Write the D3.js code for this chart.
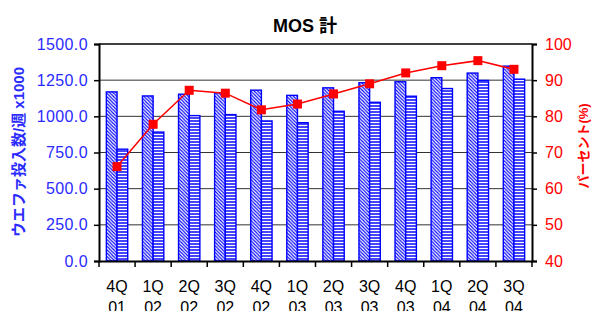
<!DOCTYPE html>
<html>
<head>
<meta charset="utf-8">
<script src="https://cdn.jsdelivr.net/npm/d3@7"></script>
<style>
  html, body { margin:0; padding:0; background:#fff; }
  svg { display:block; }
  text { font-family: "Liberation Sans", Arial, "Noto Sans CJK JP", sans-serif; }
</style>
</head>
<body>
<svg id="chart" width="593" height="311"></svg>
<script>
// ---- data -------------------------------------------------------------
var QUARTERS = ['4Q', '1Q', '2Q', '3Q', '4Q', '1Q', '2Q', '3Q', '4Q', '1Q', '2Q', '3Q'];
var YEARS    = ['01', '02', '02', '02', '02', '03', '03', '03', '03', '04', '04', '04'];
// hatched bars (left axis, x1000 wafers/week)
var WAFER_A  = [1169, 1141, 1153, 1163, 1181, 1145, 1197, 1232, 1239, 1267, 1299, 1347];
// horizontal-striped bars (left axis)
var WAFER_B  = [773, 891, 1005, 1012, 968, 956, 1035, 1097, 1139, 1192, 1248, 1257];
// red line (right axis, %)
var PERCENT  = [66.1, 77.8, 87.2, 86.4, 81.8, 83.4, 86.2, 89.0, 92.0, 94.0, 95.4, 93.0];
var LEFT_TICKS  = [0, 250, 500, 750, 1000, 1250, 1500];
var RIGHT_TICKS = [40, 50, 60, 70, 80, 90, 100];

var BLUE = '#0000ff', LBLUE = '#2b2bff', RED = '#ff0000';

var svg = d3.select('#chart');
var M = { left:99, right:532, top:44, bottom:261 };
var cats = d3.range(QUARTERS.length);

var x  = d3.scaleBand().domain(cats).range([M.left, M.right]);
var x1 = d3.scaleBand().domain(['a','b']).range([0, x.bandwidth()]).paddingOuter(0.69);
var yL = d3.scaleLinear().domain([0, 1500]).range([M.bottom, M.top]);
var yR = d3.scaleLinear().domain([40, 100]).range([M.bottom, M.top]);

// ---- fill patterns ----------------------------------------------------
var defs = svg.append('defs');
var pd = defs.append('pattern').attr('id','diag').attr('patternUnits','userSpaceOnUse')
    .attr('width',3.4).attr('height',3.4);
pd.append('rect').attr('width',3.4).attr('height',3.4).attr('fill','#fff');
pd.append('path').attr('d','M-1,-1L4.4,4.4M-1,2.4L1,4.4M2.4,-1L4.4,1')
    .attr('stroke',BLUE).attr('stroke-width',1.1);
var ph = defs.append('pattern').attr('id','horiz').attr('patternUnits','userSpaceOnUse')
    .attr('width',4).attr('height',3);
ph.append('rect').attr('width',4).attr('height',3).attr('fill','#fff');
ph.append('rect').attr('width',4).attr('height',2).attr('fill','#4646ff');

// ---- gridlines & frame -------------------------------------------------
svg.append('g').selectAll('line').data(LEFT_TICKS.filter(function(d){ return d>0 && d<1500; }))
  .join('line')
    .attr('x1',M.left).attr('x2',M.right)
    .attr('y1',function(d){ return yL(d); }).attr('y2',function(d){ return yL(d); })
    .attr('stroke','#333').attr('stroke-width',1);
svg.append('line').attr('x1',M.left).attr('x2',M.right).attr('y1',M.top).attr('y2',M.top)
    .attr('stroke','#000').attr('stroke-width',1.5);

// ---- bars ---------------------------------------------------------------
var gBars = svg.append('g');
gBars.selectAll('rect.a').data(WAFER_A).join('rect').attr('class','a')
    .attr('x',function(d,i){ return x(i)+x1('a'); }).attr('width',x1.bandwidth())
    .attr('y',function(d){ return yL(d); }).attr('height',function(d){ return yL(0)-yL(d); })
    .attr('fill','url(#diag)').attr('stroke',BLUE).attr('stroke-width',1.4);
gBars.selectAll('rect.b').data(WAFER_B).join('rect').attr('class','b')
    .attr('x',function(d,i){ return x(i)+x1('b'); }).attr('width',x1.bandwidth())
    .attr('y',function(d){ return yL(d); }).attr('height',function(d){ return yL(0)-yL(d); })
    .attr('fill','url(#horiz)').attr('stroke',BLUE).attr('stroke-width',1.4);

// ---- axes ---------------------------------------------------------------
var axL = svg.append('g').attr('transform','translate('+M.left+',0)')
    .call(d3.axisLeft(yL).tickValues(LEFT_TICKS).tickFormat(d3.format('.1f')).tickSize(5).tickPadding(6));
var axR = svg.append('g').attr('transform','translate('+M.right+',0)')
    .call(d3.axisRight(yR).tickValues(RIGHT_TICKS).tickSize(5).tickPadding(8));
var axB = svg.append('g').attr('transform','translate(0,'+M.bottom+')')
    .call(d3.axisBottom(x).tickValues([]).tickSizeOuter(0));
[axL, axR, axB].forEach(function(a){
  a.select('.domain').attr('stroke','#000').attr('stroke-width',2);
  a.selectAll('.tick line').attr('stroke','#000').attr('stroke-width',1.5);
});
axL.selectAll('text').attr('fill',LBLUE).style('font-size','16px').style('letter-spacing','0.4px');
axR.selectAll('text').attr('fill',RED).style('font-size','16px');

// category boundary ticks
svg.append('g').selectAll('line').data(cats.concat([cats.length]))
  .join('line')
    .attr('x1',function(i){ return i<cats.length ? x(i) : M.right; })
    .attr('x2',function(i){ return i<cats.length ? x(i) : M.right; })
    .attr('y1',M.bottom).attr('y2',M.bottom+6)
    .attr('stroke','#000').attr('stroke-width',1.5);

// category labels (two lines; the second is clipped by the frame, as in the source)
var lab = svg.append('g').selectAll('text').data(cats).join('text')
    .attr('text-anchor','middle').style('font-size','16px').attr('fill','#000');
lab.append('tspan').attr('x',function(i){ return x(i)+x.bandwidth()/2; }).attr('y',292)
    .text(function(i){ return QUARTERS[i]; });
lab.append('tspan').attr('x',function(i){ return x(i)+x.bandwidth()/2; }).attr('y',313)
    .text(function(i){ return YEARS[i]; });

// ---- line series ------------------------------------------------------
var cx = function(d,i){ return x(i)+x.bandwidth()/2; };
svg.append('path').datum(PERCENT)
    .attr('d', d3.line().x(cx).y(function(d){ return yR(d); }))
    .attr('fill','none').attr('stroke',RED).attr('stroke-width',1.5);
svg.append('g').selectAll('rect').data(PERCENT).join('rect')
    .attr('x',function(d,i){ return cx(d,i)-4.5; }).attr('y',function(d){ return yR(d)-4.5; })
    .attr('width',9).attr('height',9).attr('fill',RED);

// ---- titles -------------------------------------------------------------
svg.append('text').attr('x',305).attr('y',32).attr('text-anchor','middle')
    .style('font-size','18px').style('font-weight','bold').text('MOS 計');
svg.append('text').attr('transform','translate(24,152) rotate(-90)').attr('text-anchor','middle')
    .style('font-size','15px').style('font-weight','bold').attr('fill',LBLUE)
    .text('ウエファ投入数/週 x1000');
svg.append('text').attr('transform','translate(588,146) rotate(-90)').attr('text-anchor','middle')
    .style('font-size','13px').style('font-weight','bold').attr('fill',RED)
    .text('パーセント(%)');
</script>
</body>
</html>
